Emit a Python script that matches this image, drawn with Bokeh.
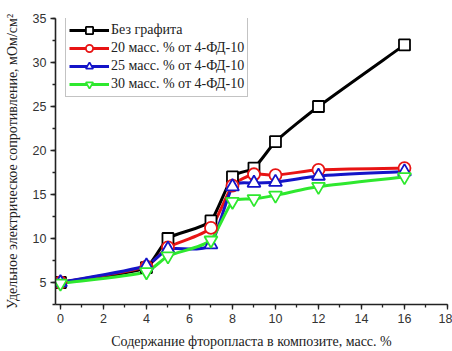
import numpy as np
from bokeh.plotting import figure
from bokeh.models import Range1d, Legend, LegendItem, FixedTicker
from bokeh.embed import file_html
from bokeh.resources import INLINE

# Fluoroplastic content in the composite, wt. %
content = [0, 4, 5, 7, 8, 9, 10, 12, 16]

# Specific electrical resistance, mOhm/cm^2
no_graphite = [5.0, 6.7, 10.0, 12.0, 17.0, 18.0, 21.0, 25.0, 32.0]
graphite_20 = [5.0, 6.8, 9.0, 11.2, 16.0, 17.3, 17.2, 17.8, 18.0]
graphite_25 = [5.0, 6.9, 8.8, 9.3, 15.9, 16.3, 16.4, 17.1, 17.6]
graphite_30 = [4.9, 6.2, 8.0, 9.8, 14.2, 14.5, 14.9, 15.9, 17.0]

labels = ["Без графита", "20 масс. % от 4-ФД-10",
          "25 масс. % от 4-ФД-10", "30 масс. % от 4-ФД-10"]
colors = ["#000000", "#e81414", "#1414c8", "#2ee82e"]
markers = ["square", "circle", "triangle", "inverted_triangle"]
marker_sizes = [11, 12, 13, 13]

x_ticks = [0, 2, 4, 6, 8, 10, 12, 14, 16, 18]
y_ticks = [5, 10, 15, 20, 25, 30, 35]

SERIF = "'Liberation Serif', 'DejaVu Serif', serif"
SANS = "'Liberation Sans', Arial, sans-serif"

p = figure(width=452, height=351, output_backend="svg", toolbar_location=None,
           x_range=Range1d(-0.23, 18), y_range=Range1d(2.5, 35),
           min_border_left=55, min_border_right=5, min_border_top=18,
           min_border_bottom=44)
p.outline_line_color = None
p.grid.grid_line_color = None
p.background_fill_color = "white"
p.border_fill_color = "white"


def smooth_segments(xs, ys, tension=0.6):
    """Cubic Bezier pieces of a smooth curve y(x) through the points."""
    xs = np.asarray(xs, float)
    ys = np.asarray(ys, float)
    n = len(xs)
    d = np.diff(ys) / np.diff(xs)
    m = np.empty(n)
    m[0], m[-1] = d[0], d[-1]
    for i in range(1, n - 1):
        m[i] = (ys[i + 1] - ys[i - 1]) / (xs[i + 1] - xs[i - 1])
    seg = dict(x0=[], y0=[], x1=[], y1=[], cx0=[], cy0=[], cx1=[], cy1=[])
    for i in range(n - 1):
        h = xs[i + 1] - xs[i]
        k = h / 3 * tension
        seg["x0"].append(xs[i]); seg["y0"].append(ys[i])
        seg["x1"].append(xs[i + 1]); seg["y1"].append(ys[i + 1])
        seg["cx0"].append(xs[i] + k); seg["cy0"].append(ys[i] + m[i] * k)
        seg["cx1"].append(xs[i + 1] - k); seg["cy1"].append(ys[i + 1] - m[i + 1] * k)
    return seg


series = [no_graphite, graphite_20, graphite_25, graphite_30]
for vals, col in zip(series, colors):
    p.bezier(line_color=col, line_width=3, **smooth_segments(content, vals))
for vals, col, mk, ms in zip(series, colors, markers, marker_sizes):
    p.scatter(content, vals, marker=mk, size=ms, fill_color="white",
              line_color=col, line_width=1.8)

# legend entries: line with marker
leg_items = []
for lab, col, mk, ms in zip(labels, colors, markers, marker_sizes):
    l = p.line([np.nan], [np.nan], line_color=col, line_width=3)
    s = p.scatter([np.nan], [np.nan], marker=mk, size=ms, fill_color="white",
                  line_color=col, line_width=1.8)
    leg_items.append(LegendItem(label=lab, renderers=[l, s]))

legend = Legend(items=leg_items, location=(10, 207))
legend.label_text_font = SERIF
legend.label_text_font_size = "14px"
legend.label_text_color = "#222222"
legend.glyph_width = 40
legend.glyph_height = 18
legend.label_height = 18
legend.label_standoff = 2
legend.spacing = 0
legend.padding = 3
legend.margin = 0
legend.border_line_color = "#888888"
legend.border_line_width = 1
legend.background_fill_color = "white"
p.add_layout(legend)

for ax in (p.xaxis[0], p.yaxis[0]):
    ax.axis_line_width = 1.6
    ax.axis_line_color = "#222222"
    ax.major_tick_line_color = "#222222"
    ax.minor_tick_line_color = "#222222"
    ax.major_tick_line_width = 1.3
    ax.minor_tick_line_width = 1.3
    ax.major_tick_out = 5
    ax.major_tick_in = 0
    ax.minor_tick_out = 3
    ax.minor_tick_in = 0
    ax.major_label_text_font = SANS
    ax.major_label_text_font_size = "12.5px"
    ax.major_label_text_color = "#333333"
    ax.axis_label_text_font = SERIF
    ax.axis_label_text_font_size = "14px"
    ax.axis_label_text_font_style = "normal"
    ax.axis_label_text_color = "#222222"

p.xaxis[0].ticker = FixedTicker(ticks=x_ticks, minor_ticks=list(range(0, 19)))
p.yaxis[0].ticker = FixedTicker(ticks=y_ticks,
                                minor_ticks=[2.5 + 2.5 * i for i in range(14)])
p.xaxis[0].axis_label = "Содержание фторопласта в композите, масс. %"
p.yaxis[0].axis_label = "Удельное электрическое сопротивление, мОм/см²"
p.xaxis[0].major_label_standoff = 4
p.xaxis[0].axis_label_standoff = 8
p.yaxis[0].major_label_standoff = 4
p.yaxis[0].axis_label_standoff = 10

open("out.html", "w").write(file_html(p, INLINE))
